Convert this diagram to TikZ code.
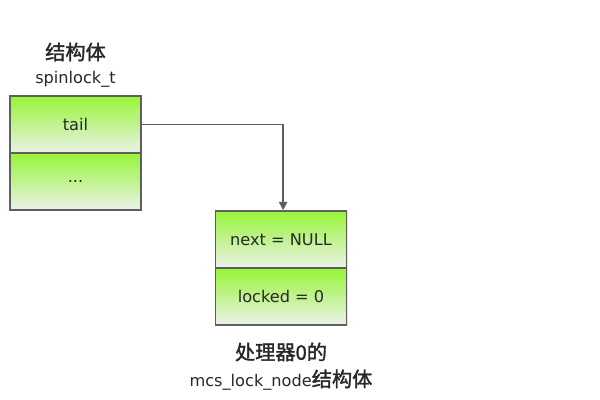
\documentclass[tikz,border=0pt]{standalone}
\usepackage{fontspec}
\setmainfont{DejaVu Sans}
\newfontfamily\cjk[FakeBold=1.6,Scale=1.25]{Noto Sans CJK SC}
\usetikzlibrary{arrows.meta,positioning,shadows}

\definecolor{fieldtop}{RGB}{150,245,55}
\definecolor{fieldbot}{RGB}{236,241,232}
\definecolor{edgegray}{RGB}{95,95,95}
\definecolor{textgray}{RGB}{40,40,40}

\begin{document}
\begin{tikzpicture}[>={Triangle[length=6pt,width=6pt]},
  field/.style={draw=edgegray,line width=1.1pt,top color=fieldtop,bottom color=fieldbot,
    minimum width=3.275cm,minimum height=1.425cm,inner sep=0pt,text=textgray,
    font=\fontsize{11.5}{13}\selectfont,drop shadow={opacity=0.2,shadow xshift=1pt,shadow yshift=-1pt}},
  caption/.style={text=textgray,font=\fontsize{11.5}{13}\selectfont,inner sep=1pt}]
\useasboundingbox (0,0) rectangle (15,10);
% spinlock_t
\node[field] (tail) at (1.8875,6.8875) {tail};
\node[field] (rest) at (1.8875,5.4625) {...};
\node[caption] (sl_name) at (1.8875,8.025) {spinlock\_t};
\node[caption] (sl_kind) at (1.8875,8.7) {\cjk 结构体};
% mcs_lock_node of cpu 0
\node[field] (next) at (7.025,4.0125) {next = NULL};
\node[field] (locked) at (7.025,2.5875) {locked = 0};
\node[caption] (mcs_kind) at (7.025,1.2) {\cjk 处理器0的};
\node[caption] (mcs_name) at (7.025,0.5) {mcs\_lock\_node{\cjk 结构体}};
\draw[->,edgegray,line width=1pt] (tail.east) -| ([xshift=1.5pt]next.north);
\end{tikzpicture}
\end{document}
